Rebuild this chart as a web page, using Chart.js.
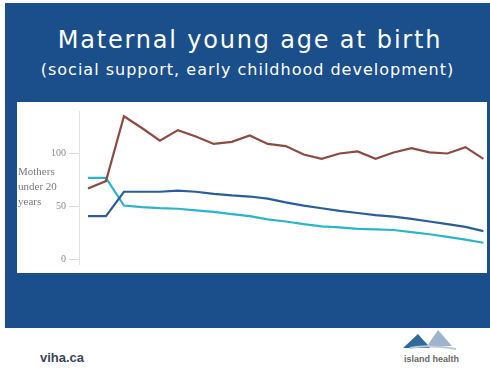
<!DOCTYPE html>
<html>
<head>
<meta charset="utf-8">
<script src="https://cdn.jsdelivr.net/npm/chart.js@4"></script>
<style>
  body { margin: 0; width: 490px; height: 371px; background: #fff; position: relative; overflow: hidden; }
  #slide { position: absolute; left: 5px; top: 3px; width: 485px; height: 325px; background: #1a4f8b; }
  #title { position: absolute; left: 5px; top: 26px; width: 490px; text-align: center; color: #fff;
           font-family: "DejaVu Sans", Verdana, sans-serif; font-size: 24px; letter-spacing: 1.8px; }
  #subtitle { position: absolute; left: 5px; top: 60px; width: 485px; text-align: center; color: #fff;
              font-family: "DejaVu Sans", Verdana, sans-serif; font-size: 16px; letter-spacing: 1px; }
  #panel { position: absolute; left: 17px; top: 102px; width: 470px; height: 171px; background: #fff; }
  #ytitle { position: absolute; left: 18px; top: 164px; font-family: "Liberation Serif", serif;
            font-size: 11px; line-height: 15px; color: #7a7a7a; }
  #site { position: absolute; left: 40px; top: 350px; font-family: "Liberation Sans", Arial, sans-serif;
          font-size: 13px; font-weight: bold; color: #3a4558; }
  #logo { position: absolute; left: 400px; top: 328px; }
  #logotext { position: absolute; left: 404px; top: 354px; font-family: "Liberation Sans Narrow", "Liberation Sans", sans-serif;
              font-size: 9px; font-weight: bold; color: #666; }
</style>
</head>
<body>
<div id="slide"></div>
<div id="title">Maternal young age at birth</div>
<div id="subtitle">(social support, early childhood development)</div>
<div id="panel"><canvas id="chart" width="470" height="171"></canvas></div>
<div id="ytitle">Mothers<br>under 20<br>years</div>
<div id="site">viha.ca</div>
<svg id="logo" width="60" height="24" viewBox="0 0 60 24">
  <polygon points="16,6 27,18 38,2 52,18 30,18" fill="#9fb4cc"/>
  <polygon points="3,20 18,6 30,20" fill="#2e6a9a"/>
  <path d="M10,20 Q28,16 56,21" stroke="#b9c9d9" stroke-width="2" fill="none"/>
</svg>
<div id="logotext">island health</div>

<script>
// periods (x positions, no labels shown on the slide)
const periods = [1, 2, 3, 4, 5, 6, 7, 8, 9, 10, 11, 12, 13, 14, 15, 16, 17, 18, 19, 20, 21, 22, 23]

// three series
const brownSeries = [67, 74, 135, 124, 112, 122, 116, 109, 111, 117, 109, 107, 99, 95, 100, 102, 95, 101, 105, 101, 100, 106, 95]
const darkBlueSeries = [41, 41, 64, 64, 64, 65, 64, 62, 60.5, 59.5, 57.5, 54, 51, 48.5, 46, 44, 42, 40.5, 38.5, 36, 33.5, 31, 27]
const cyanSeries = [77, 77, 51, 49.5, 48.5, 48, 46.5, 45, 43, 41, 38, 36, 33.5, 31.5, 30.5, 29, 28.5, 28, 26, 24, 21.5, 19, 16]

const yTicks = [0, 50, 100]

function toPoints(values) {
    return values.map((v, i) => ({x: periods[i], y: v}))
}

function lineSet(values, color) {
    return {
        data: toPoints(values),
        borderColor: color,
        borderWidth: 2.2,
        pointRadius: 0,
        tension: 0,
        fill: false
    }
}

new Chart(document.getElementById('chart'), {
    type: 'line',
    data: {
        datasets: [
            lineSet(brownSeries, '#8c4b42'),
            lineSet(darkBlueSeries, '#2a5d9a'),
            lineSet(cyanSeries, '#2ab5c8')
        ]
    },
    options: {
        responsive: false,
        animation: false,
        layout: {padding: {top: 4.5, bottom: 8, left: 0, right: 0}},
        plugins: {legend: {display: false}, tooltip: {enabled: false}},
        scales: {
            x: {
                type: 'linear',
                display: false,
                min: 0.5,
                max: 23.2
            },
            y: {
                min: -4,
                max: 140,
                afterBuildTicks: (scale) => { scale.ticks = yTicks.map(v => ({value: v})) },
                afterFit: (scale) => { scale.width = 62 },
                grid: {drawOnChartArea: false, tickLength: 10, color: '#d8d8d8'},
                border: {display: true, color: '#e2e2e2'},
                ticks: {
                    padding: 3,
                    color: '#8a8a8a',
                    font: {family: 'Liberation Serif', size: 10}
                }
            }
        }
    }
})
</script>
</body>
</html>
